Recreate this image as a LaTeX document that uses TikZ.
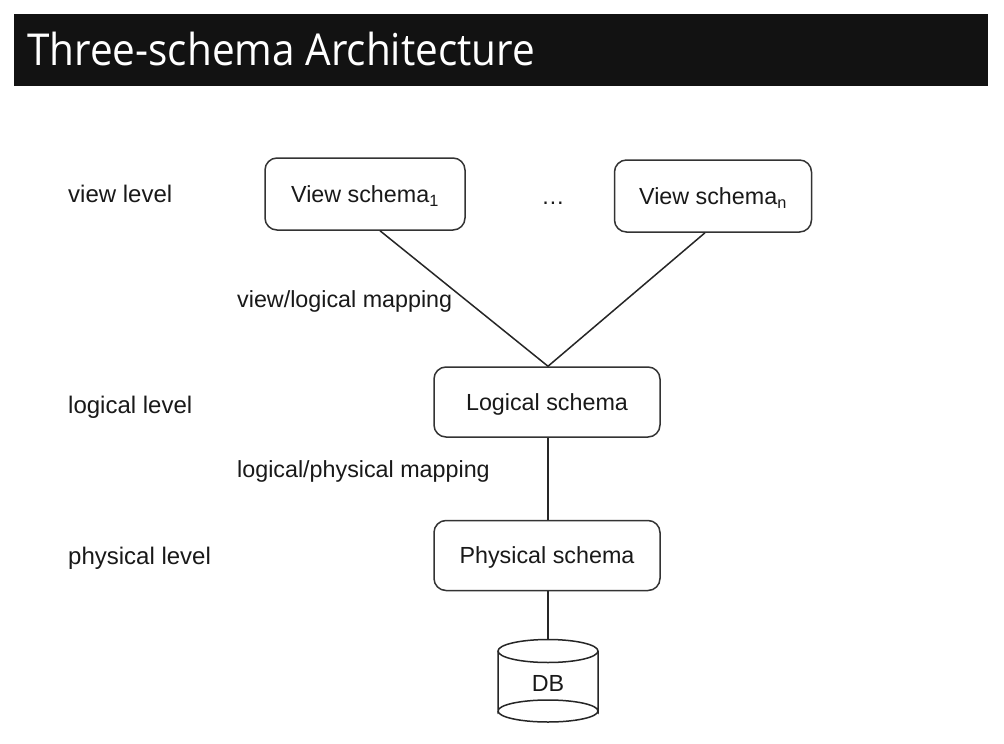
\documentclass[tikz,border=0pt]{standalone}
\usepackage{graphicx}
\usepackage{fontspec}
\setmainfont{Liberation Sans}
\newfontfamily\titlefont{Open Sans}
\begin{document}
\begin{tikzpicture}[x=1pt,y=-1pt,
  txt/.style={font=\fontsize{24}{28}\selectfont,text=black!90,text height=17.2pt,text depth=0pt},
  stxt/.style={font=\fontsize{23.3}{27}\selectfont,text=black!90,text height=16.7pt,text depth=0pt},
  schemabox/.style={stxt,draw=black!80,line width=1.5pt,rounded corners=12pt,inner sep=0pt,fill=white},
  levellabel/.style={txt,anchor=west,inner sep=0pt},
  maplabel/.style={stxt,anchor=west,inner sep=0pt},
  conn/.style={draw=black!85,line width=1.5pt}]
\useasboundingbox (0,0) rectangle (1004,744);
\fill[white] (0,0) rectangle (1004,744);
% title bar
\fill[black!93] (14,14) rectangle (988,86);
\node[anchor=west,inner sep=0pt,text=white,font=\titlefont\fontsize{44}{50}\selectfont,text height=31.4pt,text depth=0pt] (title) at (27,50) {\scalebox{0.92}[1]{Three-schema Architecture}};
% level labels
\node[levellabel] (lv) at (68,194) {view level};
\node[levellabel] (ll) at (68,405) {logical level};
\node[levellabel] (lp) at (68,556) {physical level};
% boxes
\node[schemabox,minimum width=200pt,minimum height=72pt] (v1) at (365,194) {View schema\textsubscript{1}};
\node[schemabox,minimum width=197pt,minimum height=72pt] (vn) at (713,196) {View schema\textsubscript{n}};
\node[stxt,inner sep=0pt] (dots) at (553,196) {\ldots};
\node[schemabox,minimum width=226pt,minimum height=70pt] (log) at (547,402) {Logical schema};
\node[schemabox,minimum width=226pt,minimum height=70pt] (phy) at (547,555.5) {Physical schema};
% mapping labels
\node[maplabel] (m1) at (237,299) {view/logical mapping};
\node[maplabel] (m2) at (237,469) {logical/physical mapping};
% DB cylinder
\draw[black!85,line width=1.5pt,fill=white] (498,651) -- (498,711) arc[start angle=180,end angle=360,x radius=50,y radius=11] -- (598,651);
\draw[black!85,line width=1.5pt] (498,711) arc[start angle=180,end angle=0,x radius=50,y radius=11];
\draw[black!85,line width=1.5pt,fill=white] (548,651) ellipse[x radius=50,y radius=11.5];
\node[stxt,inner sep=0pt,minimum width=100pt,minimum height=86pt] (db) at (548,683) {DB};
% connectors
\draw[conn] ([xshift=15pt]v1.south) -- ([xshift=1pt]log.north);
\draw[conn] ([xshift=-8pt]vn.south) -- ([xshift=1pt]log.north);
\draw[conn] ([xshift=1pt]log.south) -- ([xshift=1pt]phy.north);
\draw[conn] ([xshift=1pt]phy.south) -- ([yshift=-0.5pt]db.north);
\end{tikzpicture}
\end{document}
